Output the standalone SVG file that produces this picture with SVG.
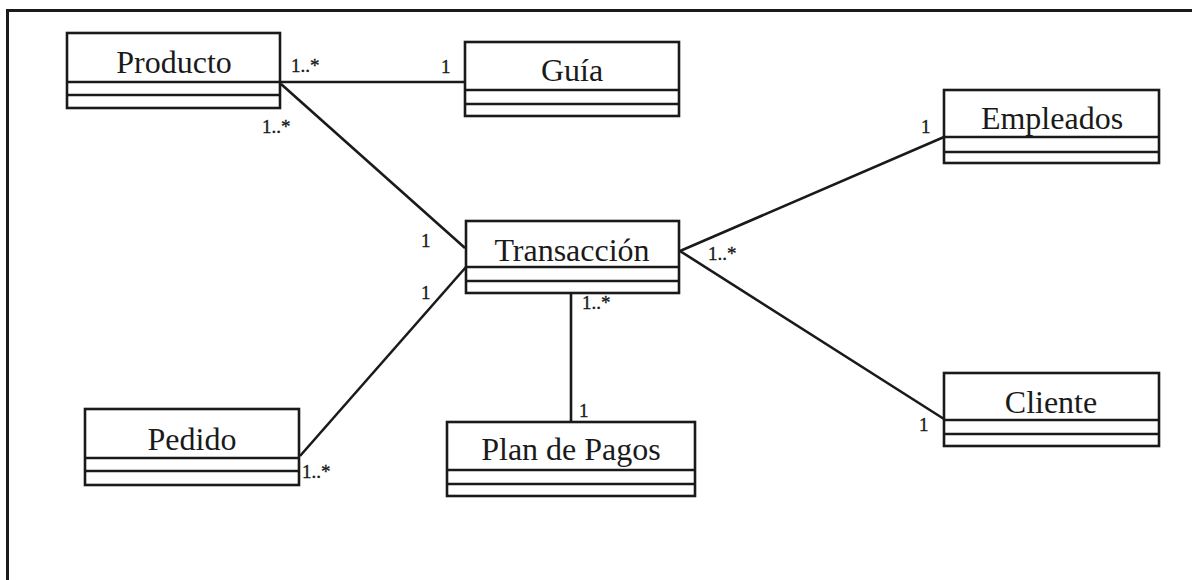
<svg xmlns="http://www.w3.org/2000/svg" width="1192" height="580" viewBox="0 0 1192 580">
  <style>
    .box { fill: #fff; stroke: #1a1a1a; stroke-width: 2.6; }
    .div { stroke: #1a1a1a; stroke-width: 2.6; fill: none; }
    .name { font-family: "Liberation Serif", "Times New Roman", serif; font-size: 32px; fill: #1a1a1a; text-anchor: middle; }
    .mult { font-family: "Liberation Serif", "Times New Roman", serif; font-size: 19px; fill: #1a1a1a; stroke: #1a1a1a; stroke-width: 0.35; }
    .link { stroke: #1a1a1a; stroke-width: 2.6; fill: none; }
  </style>
  <rect x="0" y="0" width="1192" height="580" fill="#fff"/>
  <!-- outer frame: left and top edges only -->
  <path d="M7.5,580 V10.5 H1192" fill="none" stroke="#1a1a1a" stroke-width="3"/>

  <!-- associations -->
  <g id="connectors">
    <line class="link" x1="280" y1="82" x2="465" y2="82"/>
    <line class="link" x1="281" y1="84" x2="465" y2="248"/>
    <line class="link" x1="466" y1="267" x2="300" y2="456"/>
    <line class="link" x1="571" y1="293" x2="571" y2="422"/>
    <polyline class="link" points="944,137 680,251 944,419"/>
    <text class="mult" x="291" y="72">1..*</text>
    <text class="mult" x="441" y="73">1</text>
    <text class="mult" x="262" y="133">1..*</text>
    <text class="mult" x="421" y="247">1</text>
    <text class="mult" x="421" y="299">1</text>
    <text class="mult" x="302" y="478">1..*</text>
    <text class="mult" x="582" y="309">1..*</text>
    <text class="mult" x="579" y="417">1</text>
    <text class="mult" x="708" y="260">1..*</text>
    <text class="mult" x="921" y="133">1</text>
    <text class="mult" x="919" y="431">1</text>
  </g>

  <g id="producto">
    <rect class="box" x="67" y="33" width="213" height="75"/>
    <line class="div" x1="67" y1="82" x2="280" y2="82"/>
    <line class="div" x1="67" y1="95" x2="280" y2="95"/>
    <text class="name" x="174" y="73">Producto</text>
  </g>

  <g id="guia">
    <rect class="box" x="465" y="42" width="214" height="74"/>
    <line class="div" x1="465" y1="90" x2="679" y2="90"/>
    <line class="div" x1="465" y1="104" x2="679" y2="104"/>
    <text class="name" x="572" y="81">Guía</text>
  </g>

  <g id="empleados">
    <rect class="box" x="944" y="90" width="215" height="73"/>
    <line class="div" x1="944" y1="137" x2="1159" y2="137"/>
    <line class="div" x1="944" y1="152" x2="1159" y2="152"/>
    <text class="name" x="1052" y="129">Empleados</text>
  </g>

  <g id="transaccion">
    <rect class="box" x="466" y="221" width="213" height="72"/>
    <line class="div" x1="466" y1="267" x2="679" y2="267"/>
    <line class="div" x1="466" y1="281" x2="679" y2="281"/>
    <text class="name" x="572" y="261">Transacción</text>
  </g>

  <g id="pedido">
    <rect class="box" x="85" y="409" width="214" height="76"/>
    <line class="div" x1="85" y1="458" x2="299" y2="458"/>
    <line class="div" x1="85" y1="471" x2="299" y2="471"/>
    <text class="name" x="192" y="450">Pedido</text>
  </g>

  <g id="plan-de-pagos">
    <rect class="box" x="447" y="422" width="248" height="74"/>
    <line class="div" x1="447" y1="470" x2="695" y2="470"/>
    <line class="div" x1="447" y1="484" x2="695" y2="484"/>
    <text class="name" x="571" y="460">Plan de Pagos</text>
  </g>

  <g id="cliente">
    <rect class="box" x="944" y="373" width="215" height="73"/>
    <line class="div" x1="944" y1="420" x2="1159" y2="420"/>
    <line class="div" x1="944" y1="434" x2="1159" y2="434"/>
    <text class="name" x="1051" y="413">Cliente</text>
  </g>
</svg>
